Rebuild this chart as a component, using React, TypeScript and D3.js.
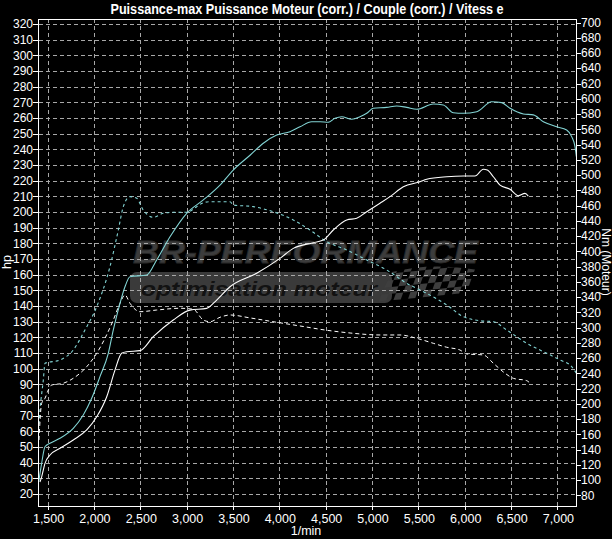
import React from 'react';
import * as d3 from 'd3';

const W = 612;
const H = 539;

// ---- tick values ----
const hpTicks = [20, 30, 40, 50, 60, 70, 80, 90, 100, 110, 120, 130, 140, 150, 160, 170, 180, 190, 200, 210, 220, 230, 240, 250, 260, 270, 280, 290, 300, 310, 320];
const nmTicks = [80, 100, 120, 140, 160, 180, 200, 220, 240, 260, 280, 300, 320, 340, 360, 380, 400, 420, 440, 460, 480, 500, 520, 540, 560, 580, 600, 620, 640, 660, 680, 700];
const rpmTicks = [1500, 2000, 2500, 3000, 3500, 4000, 4500, 5000, 5500, 6000, 6500, 7000];

// ---- series: cyan run power (hp) ----
const cyanPowerRpm = [1405, 1436, 1472, 1526, 1634, 1777, 1885, 1976, 2065, 2155, 2209, 2281, 2335, 2389, 2569, 2677, 2821, 3001, 3180, 3360, 3503, 3687, 3827, 3972, 4115, 4223, 4349, 4439, 4528, 4601, 4673, 4781, 4870, 4943, 5014, 5158, 5266, 5374, 5482, 5661, 5769, 5877, 5985, 6129, 6291, 6399, 6489, 6632, 6740, 6848, 6992, 7100, 7154, 7190, 7205];
const cyanPowerHp = [28, 39.6, 50.2, 52.4, 55.6, 61.9, 70.4, 81.1, 94.9, 109.8, 124.7, 141.7, 152.3, 158.7, 159.8, 169.4, 184.2, 199.2, 207.7, 217.2, 226.8, 236.4, 243.9, 249.1, 251.3, 254.4, 257.6, 257.6, 257.3, 259.8, 260.8, 259.2, 260.8, 263, 266.2, 266.8, 267.7, 266.8, 265.6, 268.9, 268.3, 263.4, 263, 264, 270.4, 269.8, 266.2, 262.6, 262, 257.6, 254.4, 252.3, 248.1, 241.7, 235.3];

// ---- series: white run power (hp) ----
const whitePowerRpm = [1418, 1436, 1472, 1526, 1634, 1777, 1922, 2030, 2138, 2227, 2299, 2353, 2497, 2640, 2856, 3036, 3216, 3324, 3468, 3756, 4007, 4151, 4367, 4474, 4582, 4727, 4835, 4943, 5086, 5194, 5338, 5518, 5590, 5806, 5985, 6111, 6201, 6244, 6309, 6381, 6489, 6578, 6650, 6686];
const whitePowerHp = [27.7, 31, 39.6, 44.9, 49.2, 54.5, 60.9, 69.3, 82.1, 99.1, 109.8, 110.8, 111.5, 120.4, 131.1, 137.4, 138.5, 143.8, 152.3, 160.9, 170.4, 176.8, 180.4, 182.1, 188.5, 194.9, 196, 200.2, 205.6, 209.8, 216.1, 219.3, 220.9, 222.5, 223, 223, 227.3, 226.8, 222.5, 217.2, 214.5, 210.4, 211.9, 210.2];

// ---- series: cyan run torque (Nm) ----
const cyanTorqueRpm = [1402, 1418, 1454, 1472, 1634, 1777, 1903, 2030, 2173, 2263, 2317, 2389, 2461, 2532, 2640, 2748, 2856, 3001, 3109, 3180, 3252, 3468, 3503, 3719, 3935, 4151, 4331, 4511, 4727, 4943, 5158, 5374, 5590, 5806, 5985, 6165, 6309, 6453, 6669, 6885, 7029, 7154, 7205];
const cyanTorqueNm = [165.8, 192.1, 231.4, 253.3, 257.6, 270.7, 296.9, 327.5, 379.9, 428, 458.6, 471.7, 469.6, 454.2, 444.7, 449.9, 451.2, 451.2, 458.6, 463.8, 465.1, 465.1, 460.8, 458.6, 452, 441.1, 428, 412.7, 401.8, 388.7, 375.6, 358.1, 345, 329.7, 314.4, 309.1, 307.8, 296.9, 279.5, 266.4, 257.6, 248.8, 240.2];

// ---- series: white run torque (Nm) ----
const whiteTorqueRpm = [1407, 1436, 1472, 1508, 1544, 1669, 1777, 1850, 1922, 2030, 2209, 2281, 2335, 2389, 2497, 2677, 2928, 3072, 3180, 3252, 3360, 3468, 3687, 3954, 4223, 4493, 4763, 5086, 5302, 5482, 5661, 5806, 5949, 6021, 6201, 6309, 6435, 6524, 6669, 6705];
const whiteTorqueNm = [152.7, 200.8, 207.4, 218.3, 224.8, 227.1, 233.6, 240.2, 248.8, 266.4, 310, 331.9, 342.8, 331.9, 320.9, 323.1, 325.4, 324.1, 310, 307.8, 313.6, 316.6, 312.7, 307.4, 302.2, 296.9, 293, 290.4, 290.4, 286, 279.5, 274.3, 270.7, 265.5, 264.2, 253.3, 240.2, 233.6, 230.5, 227.1];

const FONT = "'Liberation Sans Narrow', 'Arial Narrow', 'Liberation Sans', Arial, sans-serif";
const CYAN = '#82d3d3';
const GRID = '#a8a8a8';

export default function App() {
  const left = 38.5, right = 576.5, top = 19, bottom = 506;
  const x = d3.scaleLinear().domain([1402, 7206]).range([left, right]);
  const yL = d3.scaleLinear().domain([12.35, 323.2]).range([bottom, top]);
  const yR = d3.scaleLinear().domain([66.2, 704.6]).range([bottom, top]);

  const lineL = d3.line<[number, number]>().x(d => x(d[0])).y(d => yL(d[1])).curve(d3.curveMonotoneX);
  const lineR = d3.line<[number, number]>().x(d => x(d[0])).y(d => yR(d[1])).curve(d3.curveMonotoneX);

  const cyanP = lineL(d3.zip(cyanPowerRpm, cyanPowerHp) as [number, number][]) || '';
  const whiteP = lineL(d3.zip(whitePowerRpm, whitePowerHp) as [number, number][]) || '';
  const cyanT = lineR(d3.zip(cyanTorqueRpm, cyanTorqueNm) as [number, number][]) || '';
  const whiteT = lineR(d3.zip(whiteTorqueRpm, whiteTorqueNm) as [number, number][]) || '';

  const fmt = d3.format(',');

  // checkered flag squares (watermark decoration)
  const flagCells: { cx: number; cy: number }[] = [];
  for (let r = 0; r < 6; r++) {
    for (let c = 0; c < 15; c++) {
      if ((r + c) % 2 === 0) flagCells.push({ cx: c, cy: r });
    }
  }

  return (
    <svg width={W} height={H} style={{ position: 'absolute', left: 0, top: 0, display: 'block' }} fontFamily={FONT}>
      <defs>
        <clipPath id="plotClip">
          <rect x={left} y={top} width={right - left} height={bottom - top} />
        </clipPath>
        <clipPath id="flagClip">
          <path d="M 392 272 Q 430 262 478 270 L 478 300 Q 440 296 372 312 Z" />
        </clipPath>
      </defs>
      <rect x={0} y={0} width={W} height={H} fill="#000" />

      {/* watermark */}
      <g>
        <text x={133} y={263} fontFamily="'Liberation Sans', Arial, sans-serif" fontWeight={900} fontStyle="italic" fontSize={31}
          fill="#3c3c3c" stroke="#2a2a2a" strokeWidth={0.8} textLength={345} lengthAdjust="spacingAndGlyphs">BR-PERFORMANCE</text>
        <rect x={130} y={272} width={262} height={31} rx={7} fill="#3a3a3a" />
        <text x={141} y={296} fontFamily="'Liberation Sans', Arial, sans-serif" fontWeight={700} fontStyle="italic" fontSize={21}
          fill="#121212" textLength={236} lengthAdjust="spacingAndGlyphs">optimisation moteur</text>
        <g clipPath="url(#flagClip)">
          <g transform="translate(372,262) skewX(-25) rotate(-6)">
            {flagCells.map((d, i) => (
              <rect key={i} x={d.cx * 7} y={d.cy * 7} width={7} height={7} fill="#3e3e3e" />
            ))}
          </g>
        </g>
      </g>

      {/* grid */}
      <g stroke={GRID} strokeWidth={1} strokeDasharray="4,3" shapeRendering="crispEdges">
        {hpTicks.map(t => (
          <line key={'h' + t} x1={left} x2={right} y1={Math.round(yL(t)) + 0.5} y2={Math.round(yL(t)) + 0.5} />
        ))}
        {rpmTicks.map(t => (
          <line key={'v' + t} x1={Math.round(x(t)) + 0.5} x2={Math.round(x(t)) + 0.5} y1={top} y2={bottom} />
        ))}
      </g>

      {/* curves */}
      <g clipPath="url(#plotClip)" fill="none">
        <path d={cyanT} stroke={CYAN} strokeWidth={1.1} strokeDasharray="3,3" />
        <path d={whiteT} stroke="#ffffff" strokeWidth={1} strokeDasharray="4,3" />
        <path d={whiteP} stroke="#ffffff" strokeWidth={1.1} />
        <path d={cyanP} stroke={CYAN} strokeWidth={1.1} />
      </g>

      {/* frame */}
      <rect x={left} y={top} width={right - left} height={bottom - top} fill="none" stroke="#fff" strokeWidth={1} shapeRendering="crispEdges" />

      {/* left axis */}
      <g fill="#fff" fontSize={12}>
        {hpTicks.map(t => (
          <g key={'lt' + t}>
            <line x1={33} x2={left} y1={Math.round(yL(t)) + 0.5} y2={Math.round(yL(t)) + 0.5} stroke="#fff" shapeRendering="crispEdges" />
            <text x={33} y={yL(t)} dy="0.35em" textAnchor="end">{t}</text>
          </g>
        ))}
      </g>
      {/* right axis */}
      <g fill="#fff" fontSize={12}>
        {nmTicks.map(t => (
          <g key={'rt' + t}>
            <line x1={right} x2={581} y1={Math.round(yR(t)) + 0.5} y2={Math.round(yR(t)) + 0.5} stroke="#fff" shapeRendering="crispEdges" />
            <text x={581} y={yR(t)} dy="0.35em" textAnchor="start">{t}</text>
          </g>
        ))}
      </g>
      {/* bottom axis */}
      <g fill="#fff" fontSize={12.5}>
        {rpmTicks.map(t => (
          <g key={'bt' + t}>
            <line x1={Math.round(x(t)) + 0.5} x2={Math.round(x(t)) + 0.5} y1={bottom} y2={bottom + 4} stroke="#fff" shapeRendering="crispEdges" />
            <text x={x(t) + 1} y={523} textAnchor="middle">{fmt(t)}</text>
          </g>
        ))}
      </g>

      {/* axis titles */}
      <text x={306} y={535} fill="#fff" fontSize={12.5} textAnchor="middle">1/min</text>
      <text transform="translate(11,262) rotate(-90)" fill="#fff" fontSize={12.5} textAnchor="middle">hp</text>
      <text transform="translate(602,262) rotate(90)" fill="#fff" fontSize={12} textAnchor="middle">Nm (Moteur)</text>

      {/* title */}
      <text x={307} y={14} fill="#fff" fontSize={14} fontWeight={700} textAnchor="middle" textLength={393} lengthAdjust="spacingAndGlyphs">
        Puissance-max Puissance Moteur (corr.) / Couple (corr.) / Vitess e
      </text>
    </svg>
  );
}
